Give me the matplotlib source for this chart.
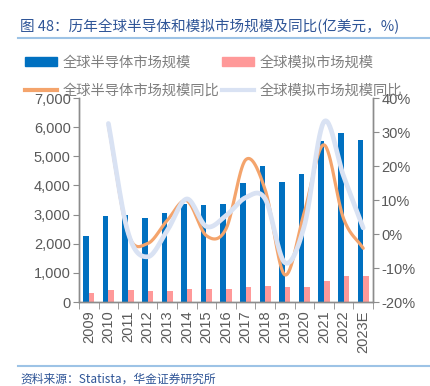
import numpy as np
import matplotlib
matplotlib.use("Agg")
import matplotlib.pyplot as plt
from matplotlib.lines import Line2D
from matplotlib.patches import Patch
from matplotlib.ticker import FuncFormatter, MultipleLocator, FixedLocator

plt.rcParams['font.family'] = ['Liberation Sans', 'Noto Sans CJK SC', 'DejaVu Sans']

years = ['2009', '2010', '2011', '2012', '2013', '2014', '2015', '2016',
         '2017', '2018', '2019', '2020', '2021', '2022', '2023E']
semi = [2260, 2960, 2990, 2880, 3040, 3350, 3340, 3370, 4100, 4670, 4110, 4380, 5540, 5790, 5560]
analog = [300, 410, 410, 385, 385, 435, 440, 445, 500, 560, 515, 525, 720, 880, 880]
semi_yoy = [np.nan, 32.0, 0.2, -2.8, 4.0, 9.8, -0.5, 1.5, 21.8, 13.0, -12.0, 6.5, 26.2, 4.5, -4.2]
analog_yoy = [np.nan, 32.5, 0.5, -6.7, 1.0, 10.3, 2.2, 5.4, 10.7, 10.3, -8.4, 2.5, 33.0, 17.0, 1.8]

C_BLUE = '#0070C0'
C_PINK = '#FF9999'
C_ORANGE = '#F4A46C'
C_LIGHT = '#D9E2F3'
C_GRAY = '#595959'
C_SPINE = '#8C8C8C'
C_TITLE = '#2F5597'
C_RULE = '#9DC3E6'


def smooth(xs, ys, n=30):
    xs = np.asarray(xs, float)
    ys = np.asarray(ys, float)
    px = np.concatenate([[2 * xs[0] - xs[1]], xs, [2 * xs[-1] - xs[-2]]])
    py = np.concatenate([[2 * ys[0] - ys[1]], ys, [2 * ys[-1] - ys[-2]]])
    ox, oy = [], []
    for i in range(1, len(px) - 2):
        t = np.linspace(0, 1, n, endpoint=(i == len(px) - 3))
        def cr(a0, a1, a2, a3):
            return 0.5 * ((2 * a1) + (-a0 + a2) * t + (2 * a0 - 5 * a1 + 4 * a2 - a3) * t ** 2
                          + (-a0 + 3 * a1 - 3 * a2 + a3) * t ** 3)
        ox.append(cr(px[i - 1], px[i], px[i + 1], px[i + 2]))
        oy.append(cr(py[i - 1], py[i], py[i + 1], py[i + 2]))
    return np.concatenate(ox), np.concatenate(oy)


fig = plt.figure(figsize=(4.31, 3.86), dpi=100)
ax = fig.add_axes([79 / 431, 1 - 302 / 386, (373 - 79) / 431, (302 - 98) / 386])
ax2 = ax.twinx()

x = np.arange(len(years))
w = 0.29
ax.bar(x - w / 2, semi, width=w, color=C_BLUE, zorder=2)
ax.bar(x + w / 2, analog, width=w, color=C_PINK, zorder=2)

ax.set_xlim(-0.5, len(years) - 0.5)
ax.set_ylim(0, 7000)
ax.yaxis.set_major_locator(MultipleLocator(1000))
ax.yaxis.set_major_formatter(FuncFormatter(lambda v, p: f'{int(v):,}'))
ax.set_xticks(x)
ax.set_xticklabels(years, rotation=90)
ax.xaxis.set_minor_locator(FixedLocator(np.arange(-0.5, len(years), 1.0)))
ax.tick_params(axis='x', which='major', length=0, pad=6, labelsize=10.5, colors=C_GRAY)
ax.tick_params(axis='x', which='minor', length=5, color=C_SPINE, direction='out')
ax.tick_params(axis='y', length=4, color=C_SPINE, labelsize=10.5, labelcolor=C_GRAY, pad=2)

yrs = np.array([i for i in x if not np.isnan(semi_yoy[i])], float)
sx, sy = smooth(yrs, [semi_yoy[int(i)] for i in yrs])
ax2.plot(sx, sy, color=C_ORANGE, lw=2.3, solid_capstyle='round', zorder=3)
lx, ly = smooth(yrs, [analog_yoy[int(i)] for i in yrs])
ax2.plot(lx, ly, color=C_LIGHT, lw=3.4, solid_capstyle='round', zorder=4)
ax2.set_ylim(-20, 40)
ax2.yaxis.set_major_locator(MultipleLocator(10))
ax2.yaxis.set_major_formatter(FuncFormatter(lambda v, p: f'{int(round(v))}%'))
ax2.tick_params(axis='y', length=4, color=C_SPINE, labelsize=10.5, labelcolor=C_GRAY, pad=2)

for a in (ax, ax2):
    a.spines['top'].set_visible(False)
    for s in ('left', 'right', 'bottom'):
        a.spines[s].set_color(C_SPINE)
        a.spines[s].set_linewidth(1.0)
ax.set_zorder(ax2.get_zorder() - 1)
ax.patch.set_visible(False)

handles = [Patch(color=C_BLUE), Line2D([], [], color=C_ORANGE, lw=3),
           Patch(color=C_PINK), Line2D([], [], color=C_LIGHT, lw=3)]
labels = ['全球半导体市场规模', '全球半导体市场规模同比', '全球模拟市场规模', '全球模拟市场规模同比']
leg = fig.legend(handles, labels, ncol=2, loc='upper left', bbox_to_anchor=(25 / 431, 1 - 56 / 386),
                 frameon=False, handlelength=2.25, handleheight=0.6, handletextpad=0.4,
                 columnspacing=0.15, labelspacing=0.95, borderpad=0, borderaxespad=0,
                 prop={'family': ['Noto Sans CJK SC', 'DejaVu Sans'], 'size': 10.3})
for t in leg.get_texts():
    t.set_color('#7F7F7F')

fig.text(20 / 431, 1 - 27 / 386, '图 48：历年全球半导体和模拟市场规模及同比(亿美元，%)',
         family=['Noto Sans CJK SC', 'DejaVu Sans'], fontsize=10.5, color=C_TITLE, va='center', ha='left')
fig.add_artist(Line2D([18 / 431, 430 / 431], [1 - 38 / 386, 1 - 38 / 386], color=C_RULE, lw=1.5))
fig.add_artist(Line2D([18 / 431, 430 / 431], [1 - 366 / 386, 1 - 366 / 386], color=C_RULE, lw=1.5))
fig.text(20 / 431, 1 - 379 / 386, '资料来源：Statista，华金证券研究所',
         family=['Noto Sans CJK SC', 'DejaVu Sans'], fontsize=8.5, color=C_TITLE, va='center', ha='left',
         style='italic')

fig.savefig('out.png', dpi=100)
